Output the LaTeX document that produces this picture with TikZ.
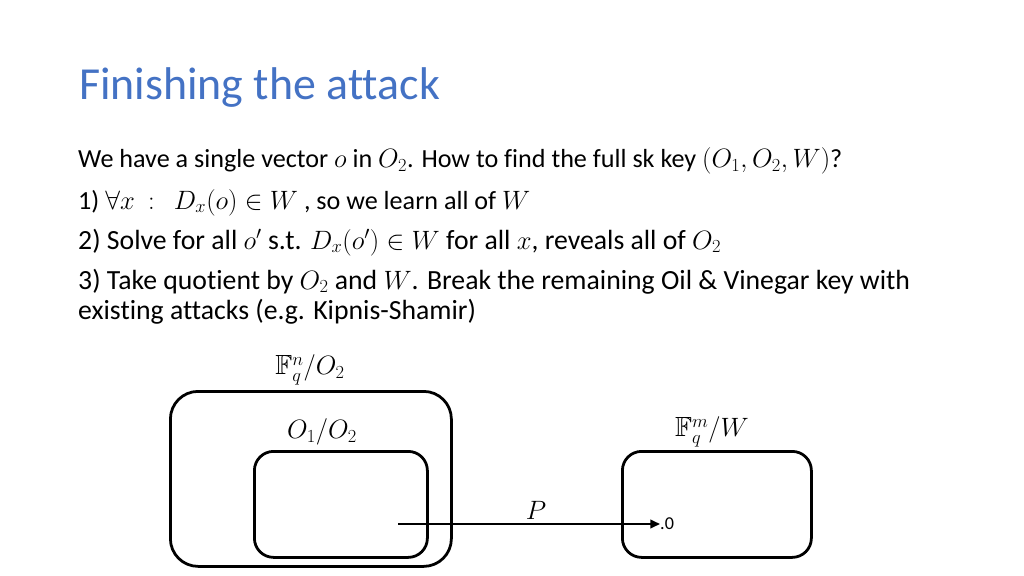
\documentclass[tikz,border=0pt]{standalone}
\usepackage{amsmath,amssymb}
\usepackage{fontspec}
\setmainfont[Ligatures=NoCommon]{Carlito}
\usetikzlibrary{arrows.meta}
\definecolor{titleblue}{HTML}{4472C4}
\newcommand{\px}{0.9375pt}

\begin{document}
\begin{tikzpicture}[x=\px, y=-\px,
    line/.style={anchor=base west, inner sep=0pt, font=\fontsize{#1}{30}\selectfont},
    line/.default=26,
    blob/.style={draw, line width=2.6pt, rounded corners=#1, inner sep=0pt, anchor=north west},
    lbl/.style={inner sep=0pt, font=\fontsize{26}{30}\selectfont}]
    \useasboundingbox (0,0) rectangle (1024,576);

    % Title
    \node[anchor=base west, inner sep=0pt, text=titleblue, font=\fontsize{43}{50}\selectfont] (title) at (79,100) {Finishing the attack};

    % Bullet lines
    \node[line=24.5] (line-1) at (78,168) {We have a single vector $o$ in $O_2$. How to find the full sk key $(O_1,O_2,W)$?};
    \node[line=24.5] (line-2) at (78,209) {1) $\forall x\ :\ \ D_x(o)\in W$ , so we learn all of $W$};
    \node[line] (line-3) at (78,249) {2) Solve for all $o'$ s.t. $D_x(o')\in W$ for all $x$, reveals all of $O_2$};
    \node[line] (line-4) at (78,289) {3) Take quotient by $O_2$ and $W$. Break the remaining Oil \& Vinegar key with};
    \node[line] (line-5) at (78,319) {existing attacks (e.g. Kipnis-Shamir)};

    % Sets
    \node[blob=26pt, minimum width=281*\px, minimum height=175*\px] (outer) at (169,390) {};
    \node[blob=18pt, minimum width=173*\px, minimum height=106*\px] (inner) at (253,450) {};
    \node[blob=18pt, minimum width=189*\px, minimum height=106*\px] (target) at (621,450) {};

    \node[lbl] (outer-lbl) at (310,370) {$\mathbb{F}_q^n/O_2$};
    \node[lbl] (inner-lbl) at (322,432) {$O_1/O_2$};
    \node[lbl] (target-lbl) at (712,432) {$\mathbb{F}_q^m/W$};

    % Map
    \coordinate (src) at (398,524);
    \node[anchor=west, inner sep=0pt, font=\fontsize{17}{19}\selectfont] (zero) at (660,524) {.0};
    \draw[line width=1.8pt, -{Triangle[length=9pt,width=8pt]}] (src) -- (zero.west);
    \node[lbl] (map-lbl) at (536,510) {$P$};
\end{tikzpicture}
\end{document}
